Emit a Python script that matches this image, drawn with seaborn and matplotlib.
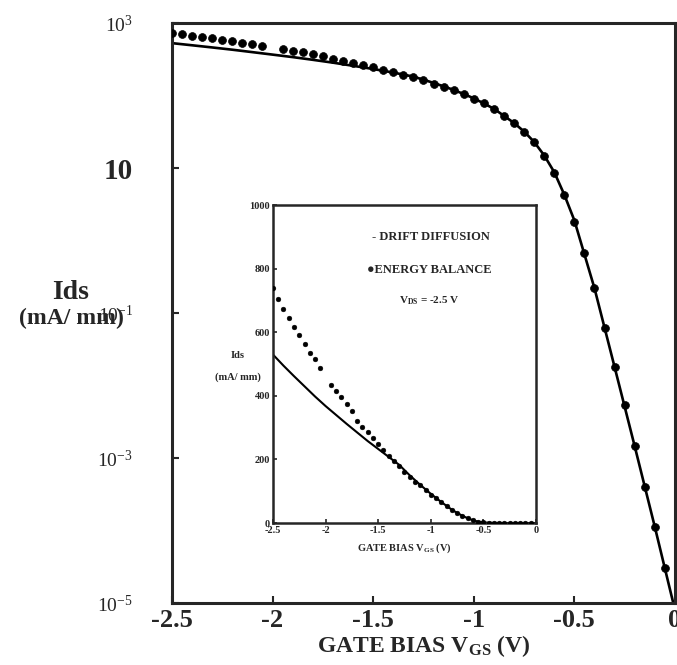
import matplotlib
matplotlib.use("Agg")
import matplotlib.pyplot as plt
import seaborn as sns
import pandas as pd

# ---------------- data ----------------
eb_v = [-2.5, -2.45, -2.4, -2.35, -2.3, -2.25, -2.2, -2.15, -2.1, -2.05,
        -1.95, -1.9, -1.85, -1.8, -1.75, -1.7, -1.65, -1.6, -1.55, -1.5,
        -1.45, -1.4, -1.35, -1.3, -1.25, -1.2, -1.15, -1.1, -1.05, -1.0,
        -0.95, -0.9, -0.85, -0.8, -0.75, -0.7, -0.65, -0.6, -0.55, -0.5,
        -0.45, -0.4, -0.35, -0.3, -0.25, -0.2, -0.15, -0.1, -0.05]
eb_i = [740, 705, 672, 645, 618, 592, 562, 535, 515, 488,
        435, 415, 395, 374, 352, 322, 303, 286, 268, 248,
        229, 211, 195, 178, 162, 144, 130, 119, 105, 89.5,
        78, 65, 52, 41.4, 31.6, 23.1, 14.7, 8.45, 4.25, 1.82,
        0.665, 0.219, 0.0617, 0.0182, 0.00537, 0.00145, 3.98e-4, 1.12e-4, 3.0e-5]

dd_v = [-2.5, -2.4, -2.3, -2.2, -2.1, -2.0, -1.9, -1.8, -1.7, -1.6, -1.5,
        -1.4, -1.3, -1.2, -1.1, -1.0, -0.9, -0.8, -0.75, -0.7, -0.65, -0.6,
        -0.55, -0.5, -0.4, -0.3, -0.2, -0.1, 0.0]
dd_i = [530, 495, 462, 430, 398, 368, 340, 312, 285, 258, 233,
        208, 183, 150, 120, 92, 66, 42, 32, 23, 15, 8.8,
        4.3, 1.9, 0.22, 0.018, 1.45e-3, 1.12e-4, 8e-6]

main_xticks = [-2.5, -2, -1.5, -1, -0.5, 0]
main_xlabels = ["-2.5", "-2", "-1.5", "-1", "-0.5", "0"]
main_yticks = [1e3, 1e1, 1e-1, 1e-3, 1e-5]
main_ylabels = ["10$^{\\mathregular{3}}$", "10", "10$^{\\mathregular{-1}}$",
                "10$^{\\mathregular{-3}}$", "10$^{\\mathregular{-5}}$"]
inset_yticks = [0, 200, 400, 600, 800, 1000]
inset_ylabels = ["0", "200", "400", "600", "800", "1000"]

eb = pd.DataFrame({"v": eb_v, "i": eb_i})
dd = pd.DataFrame({"v": dd_v, "i": dd_i})

# ---------------- style ----------------
sns.set_style("ticks")
plt.rcParams["font.family"] = ["Liberation Serif", "DejaVu Serif"]
plt.rcParams["mathtext.fontset"] = "custom"
plt.rcParams["mathtext.rm"] = "Liberation Serif"
plt.rcParams["mathtext.bf"] = "Liberation Serif:bold"
plt.rcParams["mathtext.it"] = "Liberation Serif:italic"

fig = plt.figure(figsize=(6.77, 6.65), dpi=100)
ax = fig.add_axes([0.254, 0.0932, 0.743, 0.872])

sns.lineplot(data=dd, x="v", y="i", ax=ax, color="black", lw=1.9)
sns.scatterplot(data=eb, x="v", y="i", ax=ax, color="black", s=32,
                edgecolor="black", linewidth=0.5, zorder=3)
ax.set_yscale("log")
ax.set_xlim(-2.5, 0)
ax.set_ylim(1e-5, 1e3)
ax.set_xticks(main_xticks)
ax.set_xticklabels(main_xlabels, fontsize=19, fontweight="bold")
ax.set_yticks(main_yticks)
ax.set_yticklabels(main_ylabels, fontsize=14)
for lab in ax.get_yticklabels():
    if lab.get_text() == "10":
        lab.set_fontsize(21)
        lab.set_fontweight("bold")
ax.minorticks_off()
ax.tick_params(axis="y", direction="in", length=5, width=1.5, pad=28)
ax.tick_params(axis="x", direction="in", length=5, width=1.5, pad=4)
for s in ax.spines.values():
    s.set_linewidth(2.2)
    s.set_visible(True)
ax.set_xlabel("GATE BIAS V$_{\\mathregular{GS}}$ (V)", fontsize=17,
              fontweight="bold", labelpad=1)
ax.set_ylabel("")

fig.text(71 / 677, 1 - 293 / 665, "Ids", fontsize=20, fontweight="bold",
         ha="center", va="center")
fig.text(71 / 677, 1 - 318 / 665, "(mA/ mm)", fontsize=17, fontweight="bold",
         ha="center", va="center")

# ---------------- inset ----------------
ins = fig.add_axes([0.4032, 0.2135, 0.3885, 0.478])
sns.lineplot(data=dd, x="v", y="i", ax=ins, color="black", lw=1.5)
sns.scatterplot(data=eb, x="v", y="i", ax=ins, color="black", s=12,
                edgecolor="black", linewidth=0.3, zorder=3)
ins.set_xlim(-2.5, 0)
ins.set_ylim(0, 1000)
ins.set_xticks(main_xticks)
ins.set_xticklabels(main_xlabels, fontsize=7.5, fontweight="bold")
ins.set_yticks(inset_yticks)
ins.set_yticklabels(inset_ylabels, fontsize=7.5, fontweight="bold")
ins.tick_params(direction="in", length=3, width=1.2, pad=2)
for s in ins.spines.values():
    s.set_linewidth(1.8)
ins.set_xlabel("GATE BIAS V$_{\\mathregular{GS}}$ (V)", fontsize=7.5,
               fontweight="bold", labelpad=5)
ins.set_ylabel("")

fig.text(238 / 677, 1 - 355 / 665, "Ids", fontsize=7.5, fontweight="bold",
         ha="center", va="center")
fig.text(238 / 677, 1 - 377 / 665, "(mA/ mm)", fontsize=7.5, fontweight="bold",
         ha="center", va="center")

ins.text(0.375, 0.90, "- DRIFT DIFFUSION", transform=ins.transAxes,
         fontsize=9, fontweight="bold", ha="left", va="center")
ins.text(0.357, 0.796, "\u25cfENERGY BALANCE", transform=ins.transAxes,
         fontsize=9, fontweight="bold", ha="left", va="center",
         family=["Liberation Serif", "DejaVu Sans"])
ins.text(0.593, 0.70, "V$_{\\mathregular{DS}}$ = -2.5 V", transform=ins.transAxes,
         fontsize=8, fontweight="bold", ha="center", va="center")

fig.savefig("out.png", dpi=100)
